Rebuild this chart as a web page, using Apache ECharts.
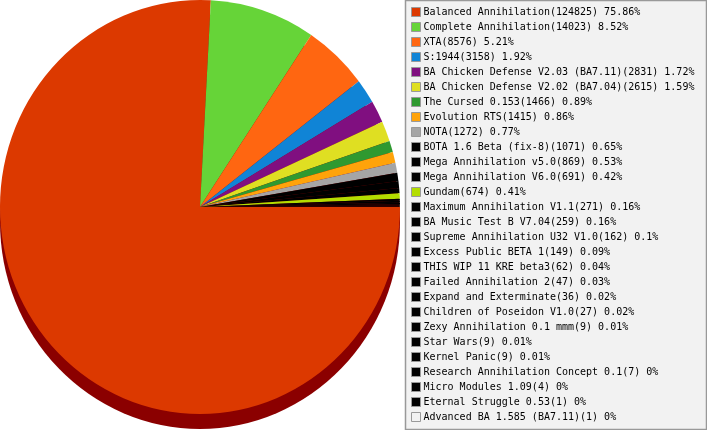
<!DOCTYPE html>
<html><head><meta charset="utf-8">
<style>html,body{margin:0;padding:0;background:#fff;overflow:hidden}#c{width:707px;height:430px}</style>
<script src="https://cdn.jsdelivr.net/npm/echarts@6/dist/echarts.min.js"></script>
</head><body><div id="c"></div>
<script>
const names = ["Balanced Annihilation","Complete Annihilation","XTA","S:1944","BA Chicken Defense V2.03 (BA7.11)","BA Chicken Defense V2.02 (BA7.04)","The Cursed 0.153","Evolution RTS","NOTA","BOTA 1.6 Beta (fix-8)","Mega Annihilation v5.0","Mega Annihilation V6.0","Gundam","Maximum Annihilation V1.1","BA Music Test B V7.04","Supreme Annihilation U32 V1.0","Excess Public BETA 1","THIS WIP 11 KRE beta3","Failed Annihilation 2","Expand and Exterminate","Children of Poseidon V1.0","Zexy Annihilation 0.1 mmm","Star Wars","Kernel Panic","Research Annihilation Concept 0.1","Micro Modules 1.09","Eternal Struggle 0.53","Advanced BA 1.585 (BA7.11)"];
const values = [124825,14023,8576,3158,2831,2615,1466,1415,1272,1071,869,691,674,271,259,162,149,62,47,36,27,9,9,9,7,4,1,1];
const percents = [75.86,8.52,5.21,1.92,1.72,1.59,0.89,0.86,0.77,0.65,0.53,0.42,0.41,0.16,0.16,0.1,0.09,0.04,0.03,0.02,0.02,0.01,0.01,0.01,0,0,0,0];
const colors = ["#dc3900","#66d438","#ff6611","#1084d6","#800f80","#dfdf22","#2f9930","#ffa30a","#a5a5a5","#000000","#000000","#000000","#b3dd00","#000000","#000000","#000000","#000000","#000000","#000000","#000000","#000000","#000000","#000000","#000000","#000000","#000000","#000000","#f2f2f2"];
const depthColor = "#8b0000";
const total = values.reduce((a,b)=>a+b,0);
const labelOf = {};
names.forEach((n,i)=>{labelOf[n]=n+"("+values[i]+") "+percents[i]+"%";});

const chart = echarts.init(document.getElementById('c'),null,{renderer:'canvas',width:707,height:430});
chart.setOption({
  animation:false,
  backgroundColor:'#fff',
  color:colors,
  graphic:[{type:'rect',z:0,silent:true,shape:{x:405.5,y:0.5,width:301,height:429},
    style:{fill:'#f2f2f2',stroke:'#999999',lineWidth:1.5}}],
  legend:{
    show:true,orient:'vertical',left:411,top:7,padding:0,
    itemWidth:9,itemHeight:9,itemGap:5,icon:'rect',selectedMode:false,
    data:names,
    formatter:n=>labelOf[n],
    itemStyle:{borderColor:'#999999',borderWidth:1},
    textStyle:{fontFamily:'"DejaVu Sans Mono"',fontSize:10,color:'#000',padding:[0,0,0,-2]},
    z:5
  },
  series:[
    {type:'pie',name:'depth',silent:true,z:1,center:[200,222],radius:[0,200],startAngle:0,clockwise:true,
     label:{show:false},labelLine:{show:false},emphasis:{disabled:true},
     data:[{name:'depth',value:total,itemStyle:{color:depthColor}}]},
    {type:'pie',name:'mods',silent:true,z:2,center:[200,207],radius:[0,200],startAngle:0,clockwise:true,
     label:{show:false},labelLine:{show:false},emphasis:{disabled:true},avoidLabelOverlap:false,
     data:names.map((n,i)=>({name:n,value:values[i],itemStyle:{color:colors[i]}}))}
  ]
});
// the pie in the picture is slightly taller than wide: stretch the sectors vertically
chart.getZr().storage.getDisplayList(true).forEach(el=>{
  if(el.type==='sector'){
    el.attr({originX:el.shape.cx,originY:el.shape.cy,scaleY:207/200});
  }
});
chart.getZr().refreshImmediately && chart.getZr().refreshImmediately();
</script></body></html>
